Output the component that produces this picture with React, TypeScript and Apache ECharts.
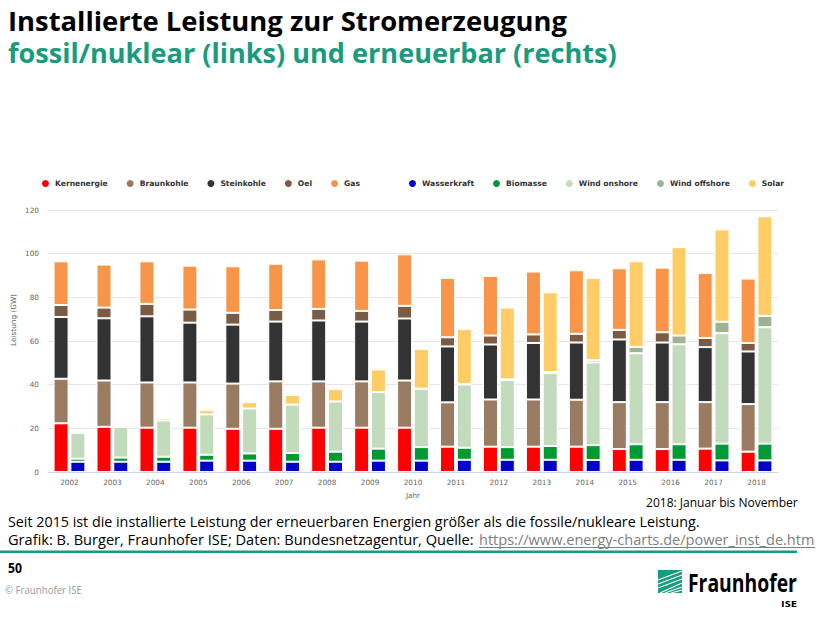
import React, { useEffect, useRef } from "react";
import * as echarts from "echarts";

const years = ["2002","2003","2004","2005","2006","2007","2008","2009","2010","2011","2012","2013","2014","2015","2016","2017","2018"];
const kernenergie = [22.3, 20.7, 20.3, 20.3, 19.8, 19.8, 20.3, 20.3, 20.3, 11.6, 11.6, 11.6, 11.6, 10.5, 10.5, 10.7, 9.3];
const braunkohle = [20.4, 21.2, 20.7, 20.7, 20.7, 21.7, 21.2, 21.2, 21.6, 20.3, 21.6, 21.6, 21.5, 21.5, 21.5, 21.3, 21.8];
const steinkohle = [28.3, 28.5, 30.3, 27.4, 27.0, 27.4, 27.9, 27.4, 28.4, 25.6, 25.2, 25.9, 26.2, 28.7, 27.3, 25.2, 24.1];
const oel = [5.5, 4.9, 5.7, 6.0, 5.4, 5.3, 5.3, 4.9, 5.8, 4.2, 4.1, 3.9, 4.0, 4.4, 4.7, 4.2, 3.9];
const gas = [20.0, 19.7, 19.5, 20.1, 21.3, 21.2, 22.7, 23.0, 23.6, 27.2, 27.3, 28.8, 29.1, 28.2, 29.6, 29.8, 29.5];
const wasserkraft = [4.7, 4.7, 4.7, 5.2, 5.2, 4.7, 4.7, 5.2, 5.2, 5.6, 5.6, 5.6, 5.5, 5.6, 5.6, 5.3, 5.3];
const biomasse = [1.4, 1.9, 2.3, 2.7, 3.3, 4.0, 4.6, 5.5, 6.2, 5.5, 5.8, 6.3, 6.8, 7.1, 7.1, 7.7, 7.7];
const windOnshore = [11.9, 14.1, 16.6, 18.5, 20.6, 22.2, 23.0, 25.9, 26.7, 29.0, 30.7, 33.4, 37.9, 41.7, 45.8, 50.6, 53.3];
const windOffshore = [0, 0, 0, 0, 0, 0, 0, 0, 0.1, 0.2, 0.3, 0.5, 1.0, 2.9, 4.0, 5.2, 5.2];
const solar = [0.3, 0.6, 1.1, 1.9, 2.9, 4.3, 5.7, 10.4, 18.2, 25.2, 32.9, 36.5, 37.7, 39.2, 40.5, 42.3, 45.6];
const yTicks = [0, 20, 40, 60, 80, 100, 120];

const fossilSeries = [
  { name: "Kernenergie", data: kernenergie, color: "#ff0000" },
  { name: "Braunkohle", data: braunkohle, color: "#987b60" },
  { name: "Steinkohle", data: steinkohle, color: "#333333" },
  { name: "Oel", data: oel, color: "#7a5c44" },
  { name: "Gas", data: gas, color: "#f89548" },
];
const renewSeries = [
  { name: "Wasserkraft", data: wasserkraft, color: "#0000cc" },
  { name: "Biomasse", data: biomasse, color: "#009933" },
  { name: "Wind onshore", data: windOnshore, color: "#c3dbbd" },
  { name: "Wind offshore", data: windOffshore, color: "#9db394" },
  { name: "Solar", data: solar, color: "#ffcc66" },
];

const UI = "'Open Sans', 'Noto Sans', sans-serif";
const CH = "'DejaVu Sans', sans-serif";
const GREEN = "#179c7d";

let measureCtx: CanvasRenderingContext2D | null = null;
function measure(text: string, font: string) {
  if (!measureCtx) measureCtx = document.createElement("canvas").getContext("2d");
  measureCtx!.font = font;
  return measureCtx!.measureText(text).width;
}

function fitText(text: string, x: number, y: number, size: number, weight: string, family: string, color: string, width: number) {
  const w = measure(text, `${weight} ${size}px ${family}`);
  return {
    type: "text",
    x,
    y,
    scaleX: w > 0 ? width / w : 1,
    style: { text, fontSize: size, fontWeight: weight, fontFamily: family, fill: color, align: "left", verticalAlign: "middle" },
  };
}

export default function App() {
  const ref = useRef<HTMLDivElement>(null);
  useEffect(() => {
    const chart = echarts.init(ref.current!, null, { renderer: "svg" });
    const mk = (s: any, stack: string) => ({
      name: s.name,
      type: "bar",
      stack,
      data: s.data,
      barWidth: 15,
      barGap: "12%",
      itemStyle: { color: s.color, borderColor: "#ffffff", borderWidth: 1 },
      emphasis: { disabled: true },
    });
    const legendCommon = {
      top: 178,
      padding: 0,
      icon: "circle",
      itemWidth: 9,
      itemHeight: 9,
      itemGap: 17,
      textStyle: { fontFamily: CH, fontSize: 7.6, fontWeight: "bold", color: "#333333", padding: [0, 0, 0, 0] },
    };
    const logoLines = [
      [[658, 580], [682, 571]],
      [[658, 584], [682, 575]],
      [[658, 588], [682, 579]],
      [[660, 593], [682, 583]],
      [[665, 593], [682, 587]],
      [[671, 593], [682, 590]],
    ];
    chart.setOption({
      animation: false,
      backgroundColor: "#ffffff",
      grid: { left: 48, right: 45, top: 210, bottom: 150 },
      legend: [
        { ...legendCommon, left: 40, data: fossilSeries.map((s) => s.name) },
        { ...legendCommon, left: 407, data: renewSeries.map((s) => s.name) },
      ],
      xAxis: {
        type: "category",
        data: years,
        axisLine: { lineStyle: { color: "#ccd6eb" } },
        axisTick: { length: 5, lineStyle: { color: "#ccd6eb" } },
        axisLabel: { color: "#666666", fontSize: 7.3, fontFamily: CH, margin: 7 },
        name: "Jahr",
        nameLocation: "middle",
        nameGap: 20,
        nameTextStyle: { color: "#666666", fontSize: 7.3, fontFamily: CH },
      },
      yAxis: {
        type: "value",
        min: yTicks[0],
        max: yTicks[yTicks.length - 1],
        interval: yTicks[1] - yTicks[0],
        axisLine: { show: false },
        axisTick: { show: false },
        axisLabel: { color: "#666666", fontSize: 7.3, fontFamily: CH, margin: 9 },
        splitLine: { lineStyle: { color: "#e6e6e6" } },
      },
      series: [...fossilSeries.map((s) => mk(s, "fossil")), ...renewSeries.map((s) => mk(s, "erneuerbar"))],
      graphic: [
        fitText("Installierte Leistung zur Stromerzeugung", 8, 21, 26, "bold", UI, "#000000", 559),
        fitText("fossil/nuklear (links) und erneuerbar (rechts)", 8, 53, 26, "bold", UI, GREEN, 609),
        {
          type: "text",
          x: 13,
          y: 320,
          rotation: Math.PI / 2,
          style: { text: "Leistung (GW)", fontSize: 7.3, fontFamily: CH, fill: "#666666", align: "center", verticalAlign: "middle" },
        },
        fitText("2018: Januar bis November", 646, 502, 13, "normal", UI, "#000000", 152),
        fitText("Seit 2015 ist die installierte Leistung der erneuerbaren Energien größer als die fossile/nukleare Leistung.", 8, 522, 14, "normal", UI, "#000000", 692),
        fitText("Grafik: B. Burger, Fraunhofer ISE; Daten: Bundesnetzagentur, Quelle:", 8, 540, 14, "normal", UI, "#000000", 466),
        fitText("https://www.energy-charts.de/power_inst_de.htm", 479, 540, 14, "normal", UI, "#808080", 336),
        { type: "line", shape: { x1: 479, y1: 547.5, x2: 815, y2: 547.5 }, style: { stroke: "#808080", lineWidth: 1 } },
        { type: "rect", shape: { x: 0, y: 550.5, width: 797, height: 2.5 }, style: { fill: GREEN } },
        fitText("50", 8, 568, 14, "bold", UI, "#000000", 14),
        fitText("© Fraunhofer ISE", 5, 590, 10, "normal", UI, "#999999", 77),
        { type: "rect", shape: { x: 658, y: 570, width: 24, height: 23 }, style: { fill: GREEN } },
        ...logoLines.map((p) => ({
          type: "line",
          shape: { x1: p[0][0], y1: p[0][1], x2: p[1][0], y2: p[1][1] },
          style: { stroke: "#ffffff", lineWidth: 1.2 },
        })),
        fitText("Fraunhofer", 688, 582, 25, "bold", UI, "#000000", 109),
        fitText("ISE", 781, 603, 9.5, "bold", UI, "#000000", 16),
      ],
    });
    return () => chart.dispose();
  }, []);
  return <div ref={ref} style={{ position: "fixed", left: 0, top: 0, width: 823, height: 622, background: "#fff" }} />;
}
